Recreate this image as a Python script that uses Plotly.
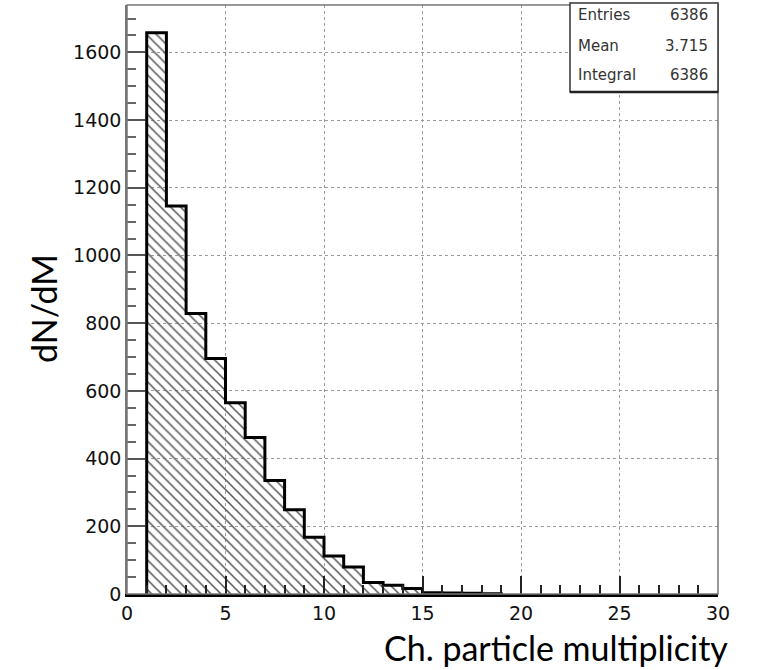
import plotly.graph_objects as go

# Charged-particle multiplicity histogram, unit bins starting at M = 1
bin_low_edges = [1, 2, 3, 4, 5, 6, 7, 8, 9, 10, 11, 12, 13, 14, 15, 16, 17, 18]
counts = [1658, 1146, 829, 696, 565, 462, 335, 249, 168, 112, 80, 34, 26, 16, 4, 3, 2, 1]

# Statistics box contents
stat_names = ["Entries", "Mean", "Integral"]
stat_values = ["6386", "3.715", "6386"]

x_ticks = [0, 5, 10, 15, 20, 25, 30]
y_ticks = [0, 200, 400, 600, 800, 1000, 1200, 1400, 1600]

W, H = 759, 670
ML, MR, MT, MB = 127, 41, 5, 76

centers = [e + 0.5 for e in bin_low_edges]
right_edge = bin_low_edges[-1] + 1
step_x = bin_low_edges + [right_edge, right_edge]
step_y = [0] + counts + [0]

fig = go.Figure()

# hatched fill of the histogram
fig.add_trace(go.Bar(
    x=centers, y=counts, width=1.0,
    marker=dict(
        color="rgba(0,0,0,0)",
        line=dict(width=0),
        pattern=dict(shape="\\", size=7, solidity=0.22,
                     fgcolor="#555555", bgcolor="rgba(0,0,0,0)",
                     fillmode="replace"),
    ),
    hoverinfo="skip", showlegend=False,
))

# histogram outline as a step line
fig.add_trace(go.Scatter(
    x=step_x, y=step_y, mode="lines",
    line=dict(color="black", width=3, shape="vh"),
    hoverinfo="skip", showlegend=False,
))

tick_font = dict(family="DejaVu Sans", size=19, color="#111")

fig.update_xaxes(
    range=[0, 30], tickvals=x_ticks, ticktext=[str(v) for v in x_ticks],
    ticks="inside", ticklen=18, tickwidth=2, tickcolor="#222",
    minor=dict(ticks="inside", ticklen=9, tickwidth=2, tickcolor="#222", dtick=1,
               showgrid=False),
    showgrid=True, gridcolor="#9a9a9a", griddash="dot", gridwidth=1,
    showline=True, linecolor="black", linewidth=3,
    zeroline=False, tickfont=tick_font, fixedrange=True,
)
fig.update_yaxes(
    range=[0, 1740], tickvals=y_ticks, ticktext=[str(v) for v in y_ticks],
    ticks="inside", ticklen=18, tickwidth=2, tickcolor="#555",
    minor=dict(ticks="inside", ticklen=9, tickwidth=1.5, tickcolor="#666", dtick=50,
               showgrid=False),
    showgrid=True, gridcolor="#9a9a9a", griddash="dot", gridwidth=1,
    showline=True, linecolor="#777", linewidth=1.5,
    zeroline=False, tickfont=tick_font, fixedrange=True,
)

pw = W - ML - MR
ph = H - MT - MB

def px_x(px):
    return (px - ML) / pw

def px_y(py):
    return (H - MB - py) / ph

shapes = [
    # frame (top and right sides)
    dict(type="rect", xref="paper", yref="paper", x0=0, x1=1, y0=0, y1=1,
         line=dict(color="#777", width=1.5), layer="above"),
    # statistics box
    dict(type="rect", xref="paper", yref="paper",
         x0=px_x(570), x1=px_x(718), y0=px_y(92), y1=px_y(3),
         fillcolor="white", line=dict(color="#333", width=1.5), layer="above"),
    dict(type="line", xref="paper", yref="paper",
         x0=px_x(570), x1=px_x(718), y0=px_y(92), y1=px_y(92),
         line=dict(color="#222", width=2.5), layer="above"),
]

annotations = []
row_y = [15, 46, 75]
stat_font = dict(family="DejaVu Sans", size=15, color="#333")
for name, val, ry in zip(stat_names, stat_values, row_y):
    annotations.append(dict(text=name, xref="paper", yref="paper",
                            x=px_x(576), y=px_y(ry), xanchor="left", yanchor="middle",
                            showarrow=False, font=stat_font))
    annotations.append(dict(text=val, xref="paper", yref="paper",
                            x=px_x(710), y=px_y(ry), xanchor="right", yanchor="middle",
                            showarrow=False, font=stat_font))

title_font = dict(family="Lato", size=34, color="black")
annotations.append(dict(text="dN/dM", xref="paper", yref="paper",
                        x=px_x(43), y=px_y(309), xanchor="center", yanchor="middle",
                        textangle=-90, showarrow=False, font=title_font))
annotations.append(dict(text="Ch. particle multiplicity", xref="paper", yref="paper",
                        x=px_x(556), y=px_y(647), xanchor="center", yanchor="middle",
                        showarrow=False, font=title_font))

fig.update_layout(
    width=W, height=H,
    margin=dict(l=ML, r=MR, t=MT, b=MB),
    paper_bgcolor="white", plot_bgcolor="white",
    shapes=shapes, annotations=annotations,
    bargap=0, showlegend=False,
)

fig.write_html("out.html")
